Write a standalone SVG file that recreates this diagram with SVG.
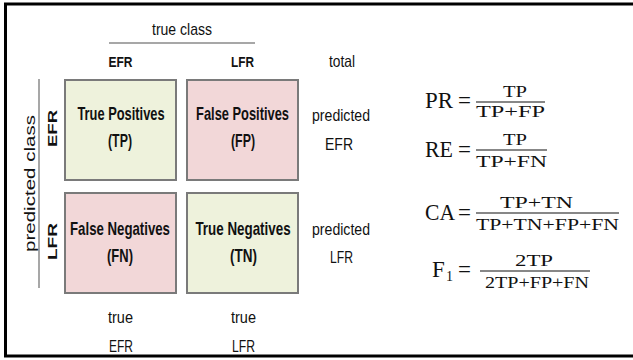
<svg xmlns="http://www.w3.org/2000/svg" width="633" height="360" viewBox="0 0 633 360">
<style>
.c{font-family:"Liberation Sans",Arial,sans-serif;fill:#111;text-anchor:middle}
.b{font-weight:bold}
.m{font-family:"Liberation Serif","Times New Roman",serif;fill:#111}
.box{stroke:#7a7a7a;stroke-width:2}
.pos{fill:#eef2dc}
.neg{fill:#f2d7d8}
.ax{stroke:#8a8a8a;stroke-width:1.5}
.fr{stroke:#111;stroke-width:1.2}
</style>
<rect x="5.5" y="4" width="640" height="352" fill="#fff" stroke="#000" stroke-width="3"/>
<g id="axes">
<line class="ax" x1="109" y1="43" x2="255" y2="43"/>
<line class="ax" x1="39" y1="79" x2="39" y2="288"/>
<text class="c" x="182" y="35" font-size="17" textLength="60" lengthAdjust="spacingAndGlyphs">true class</text>
<text class="c" transform="translate(35,183.5) rotate(-90)" font-size="14.5" textLength="137" lengthAdjust="spacingAndGlyphs">predicted class</text>
</g>
<g id="col-headers">
<text class="c b" x="120.5" y="67" font-size="15.5" textLength="24" lengthAdjust="spacingAndGlyphs">EFR</text>
<text class="c b" x="242.5" y="67" font-size="15.5" textLength="23" lengthAdjust="spacingAndGlyphs">LFR</text>
<text class="c" x="342" y="67" font-size="16.5" textLength="26" lengthAdjust="spacingAndGlyphs">total</text>
</g>
<g id="row-headers">
<text class="c b" transform="translate(57,128.5) rotate(-90)" font-size="13" textLength="37" lengthAdjust="spacingAndGlyphs">EFR</text>
<text class="c b" transform="translate(57,241.5) rotate(-90)" font-size="13" textLength="37" lengthAdjust="spacingAndGlyphs">LFR</text>
</g>
<g id="tp">
<rect class="box pos" x="65" y="80" width="111" height="100"/>
<text class="c b" transform="translate(121,120) scale(0.715,1)" font-size="18">True Positives</text>
<text class="c b" transform="translate(120,147) scale(0.686,1)" font-size="18">(TP)</text>
</g>
<g id="fp">
<rect class="box neg" x="187" y="80" width="111" height="100"/>
<text class="c b" transform="translate(242.5,120) scale(0.715,1)" font-size="18">False Positives</text>
<text class="c b" transform="translate(243,147) scale(0.686,1)" font-size="18">(FP)</text>
</g>
<g id="fn">
<rect class="box neg" x="65" y="193" width="111" height="100"/>
<text class="c b" transform="translate(120,235) scale(0.735,1)" font-size="18">False Negatives</text>
<text class="c b" transform="translate(120,262) scale(0.72,1)" font-size="18">(FN)</text>
</g>
<g id="tn">
<rect class="box pos" x="187" y="193" width="111" height="100"/>
<text class="c b" transform="translate(243,235) scale(0.744,1)" font-size="18">True Negatives</text>
<text class="c b" transform="translate(243.5,262) scale(0.75,1)" font-size="18">(TN)</text>
</g>
<g id="row-totals">
<text class="c" transform="translate(341,121) scale(0.83,1)" font-size="17">predicted</text>
<text class="c" x="339" y="150" font-size="16" textLength="28" lengthAdjust="spacingAndGlyphs">EFR</text>
<text class="c" transform="translate(341,235) scale(0.83,1)" font-size="17">predicted</text>
<text class="c" x="341.5" y="263" font-size="16" textLength="23" lengthAdjust="spacingAndGlyphs">LFR</text>
</g>
<g id="col-totals">
<text class="c" x="120.5" y="323" font-size="17" textLength="25" lengthAdjust="spacingAndGlyphs">true</text>
<text class="c" x="121" y="352" font-size="16" textLength="24" lengthAdjust="spacingAndGlyphs">EFR</text>
<text class="c" x="243.5" y="323" font-size="17" textLength="25" lengthAdjust="spacingAndGlyphs">true</text>
<text class="c" x="243.5" y="352" font-size="16" textLength="23" lengthAdjust="spacingAndGlyphs">LFR</text>
</g>
<g id="formula-pr">
<text class="m" x="425" y="108" font-size="23" textLength="28" lengthAdjust="spacingAndGlyphs">PR</text>
<text class="m" x="458" y="108" font-size="23">=</text>
<text class="m" x="503" y="97" font-size="16" textLength="24" lengthAdjust="spacingAndGlyphs">TP</text>
<line class="fr" x1="476" y1="102" x2="545" y2="102"/>
<text class="m" x="476" y="117" font-size="16" textLength="69" lengthAdjust="spacingAndGlyphs">TP+FP</text>
</g>
<g id="formula-re">
<text class="m" x="425" y="157" font-size="23" textLength="28" lengthAdjust="spacingAndGlyphs">RE</text>
<text class="m" x="458" y="157" font-size="23">=</text>
<text class="m" x="503" y="145" font-size="16" textLength="24" lengthAdjust="spacingAndGlyphs">TP</text>
<line class="fr" x1="476" y1="150" x2="547" y2="150"/>
<text class="m" x="476" y="167" font-size="16" textLength="71" lengthAdjust="spacingAndGlyphs">TP+FN</text>
</g>
<g id="formula-ca">
<text class="m" x="425" y="220" font-size="23" textLength="30" lengthAdjust="spacingAndGlyphs">CA</text>
<text class="m" x="458" y="220" font-size="23">=</text>
<text class="m" x="500" y="208" font-size="16" textLength="73" lengthAdjust="spacingAndGlyphs">TP+TN</text>
<line class="fr" x1="476" y1="213" x2="619" y2="213"/>
<text class="m" x="476" y="230" font-size="16" textLength="143" lengthAdjust="spacingAndGlyphs">TP+TN+FP+FN</text>
</g>
<g id="formula-f1">
<text class="m" x="432" y="277" font-size="23">F</text>
<text class="m" x="446" y="281" font-size="14">1</text>
<text class="m" x="458" y="277" font-size="23">=</text>
<text class="m" x="515" y="266" font-size="16" textLength="38" lengthAdjust="spacingAndGlyphs">2TP</text>
<line class="fr" x1="480" y1="271" x2="590" y2="271"/>
<text class="m" x="485" y="288" font-size="16" textLength="104" lengthAdjust="spacingAndGlyphs">2TP+FP+FN</text>
</g>
</svg>
